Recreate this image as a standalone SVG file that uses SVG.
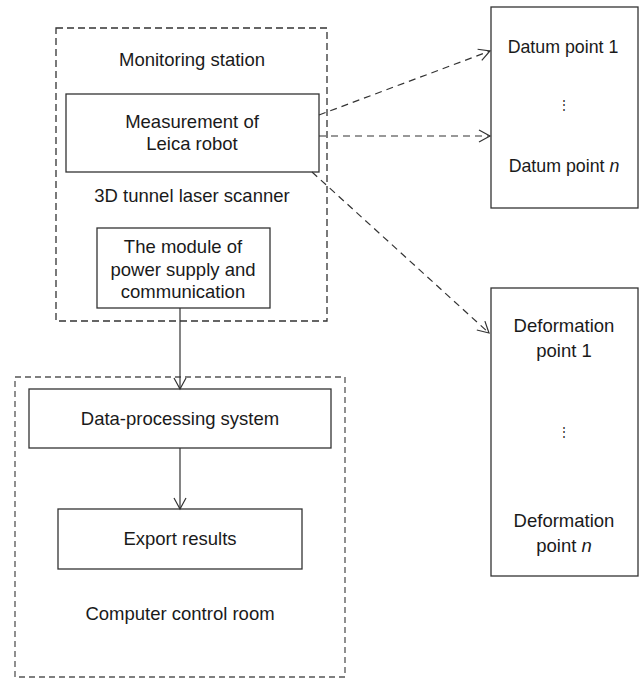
<svg xmlns="http://www.w3.org/2000/svg" width="640" height="678" viewBox="0 0 640 678">
<defs>
<marker id="arr" markerWidth="14" markerHeight="14" refX="12" refY="7" orient="auto" markerUnits="userSpaceOnUse">
<path d="M1,1 L12,7 L1,13" fill="none" stroke="#333" stroke-width="1.2"/>
</marker>
<style>
.box{fill:#fff;stroke:#333;stroke-width:1.3}
.dbox{fill:none;stroke:#333;stroke-width:1.3;stroke-dasharray:7,4}
.t{font-family:"Liberation Sans",Arial,sans-serif;font-size:18.5px;fill:#1a1a1a;text-anchor:middle}
.c{stroke:#333;stroke-width:1.2;fill:none}
.dash{stroke-dasharray:7,5}
</style>
</defs>
<rect width="640" height="678" fill="#fff"/>
<g id="monitoring-station">
<rect class="dbox" x="56" y="28" width="271" height="293"/>
<text class="t" x="192" y="66">Monitoring station</text>
<text class="t" x="192" y="202">3D tunnel laser scanner</text>
</g>
<g id="measurement">
<rect class="box" x="66" y="94" width="253" height="78"/>
<text class="t" x="192" y="128">Measurement of</text>
<text class="t" x="192" y="150">Leica robot</text>
</g>
<g id="module">
<rect class="box" x="97" y="228" width="173" height="80"/>
<text class="t" x="183" y="253">The module of</text>
<text class="t" x="183" y="276">power supply and</text>
<text class="t" x="183" y="298">communication</text>
</g>
<g id="computer-room">
<rect class="dbox" x="15" y="377" width="330" height="300" style="stroke-dasharray:6,4;stroke:#555"/>
<text class="t" x="180" y="620">Computer control room</text>
</g>
<g id="data-processing">
<rect class="box" x="29" y="389" width="302" height="59"/>
<text class="t" x="180" y="425">Data-processing system</text>
</g>
<g id="export">
<rect class="box" x="58" y="509" width="244" height="60"/>
<text class="t" x="180" y="545">Export results</text>
</g>
<g id="datum">
<rect class="box" x="491" y="7" width="147" height="201"/>
<text class="t" x="563" y="53" style="font-size:17.8px">Datum point 1</text>
<text class="t" x="564" y="109" style="font-size:12px">⋮</text>
<text class="t" x="564" y="172" style="font-size:17.8px">Datum point <tspan font-style="italic">n</tspan></text>
</g>
<g id="deformation">
<rect class="box" x="491" y="288" width="147" height="288"/>
<text class="t" x="564" y="332">Deformation</text>
<text class="t" x="564" y="357">point 1</text>
<text class="t" x="564" y="436" style="font-size:12px">⋮</text>
<text class="t" x="564" y="527">Deformation</text>
<text class="t" x="564" y="552">point <tspan font-style="italic">n</tspan></text>
</g>
<g id="connectors">
<line class="c dash" x1="319" y1="115" x2="490" y2="51" marker-end="url(#arr)"/>
<line class="c dash" x1="319" y1="136" x2="490" y2="136" marker-end="url(#arr)"/>
<line class="c dash" x1="312" y1="172" x2="489" y2="333" marker-end="url(#arr)"/>
<line class="c" x1="180" y1="308" x2="180" y2="389" marker-end="url(#arr)"/>
<line class="c" x1="180" y1="448" x2="180" y2="509" marker-end="url(#arr)"/>
</g>
</svg>
